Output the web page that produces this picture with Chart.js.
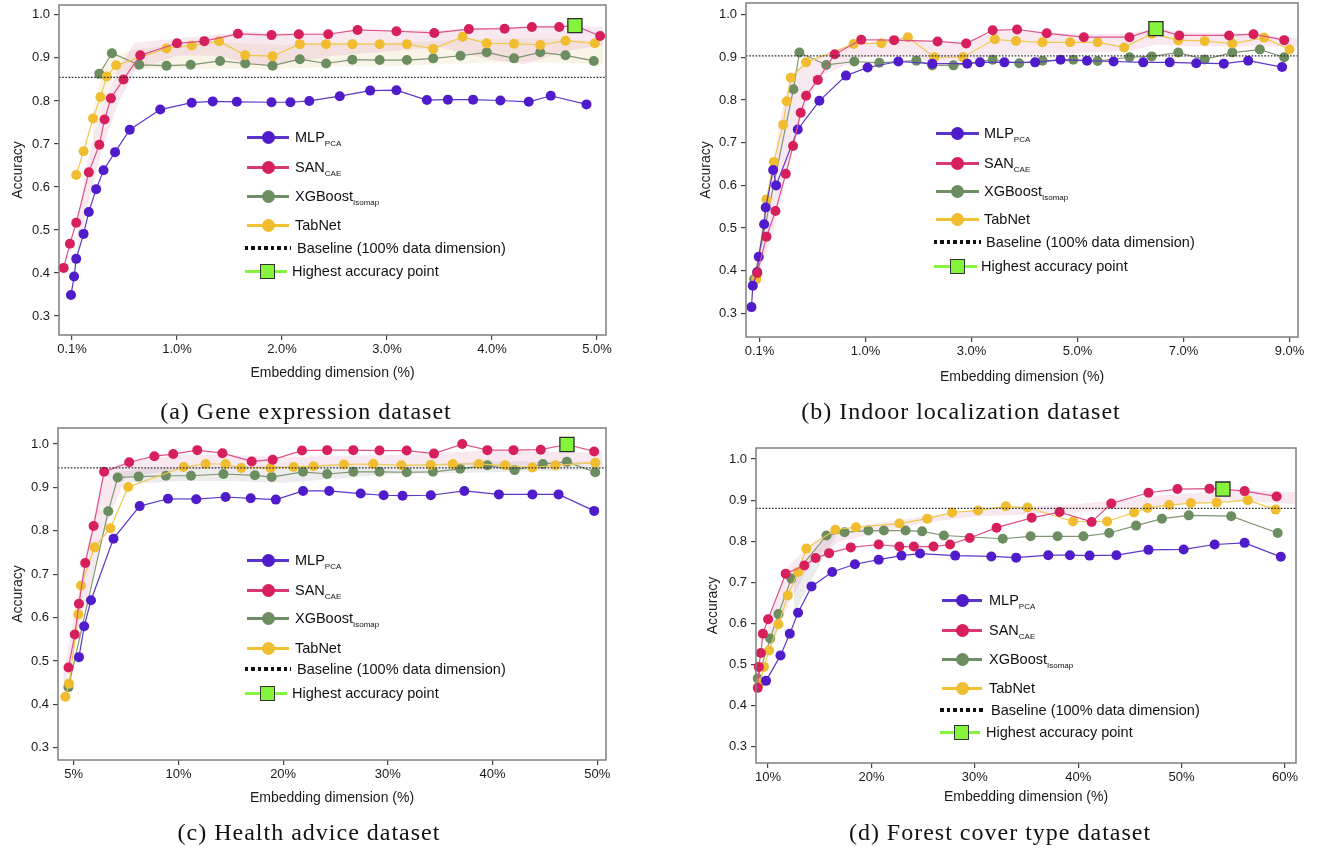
<!DOCTYPE html>
<html><head><meta charset="utf-8">
<script src="https://cdn.jsdelivr.net/npm/chart.js@4.4.1/dist/chart.umd.min.js"></script>
<style>
html,body{margin:0;padding:0;background:#fff;width:1324px;height:855px;overflow:hidden;position:relative;font-family:'Liberation Sans',Arial,sans-serif;}
.pc{position:absolute;}
.cap{position:absolute;font-family:'Liberation Serif','Times New Roman',serif;font-size:24px;letter-spacing:1px;color:#111;white-space:nowrap;transform:translate(-50%,-50%);}
.lgx{position:absolute;}
.lgt{position:absolute;font-size:14.5px;color:#111;white-space:nowrap;transform:translateY(-50%);line-height:1;}
.sb{font-size:8px;position:relative;top:4px;}
</style></head><body>
<div class="pc" id="wa" style="left:0px;top:-12px;"><canvas id="ca" width="660" height="412"></canvas></div>
<div class="pc" id="wb" style="left:690px;top:-12px;"><canvas id="cb" width="634" height="412"></canvas></div>
<div class="pc" id="wc" style="left:0px;top:410px;"><canvas id="cc" width="660" height="410"></canvas></div>
<div class="pc" id="wd" style="left:696px;top:430px;"><canvas id="cd" width="628" height="390"></canvas></div>
<div class="cap" style="left:306px;top:411px;">(a) Gene expression dataset</div>
<div class="cap" style="left:961px;top:411px;">(b) Indoor localization dataset</div>
<div class="cap" style="left:309px;top:832px;">(c) Health advice dataset</div>
<div class="cap" style="left:1000px;top:832px;">(d) Forest cover type dataset</div>
<script>
// ---------- tick labels ----------
const tickPos = [0, 1, 2, 3, 4, 5];
const yTicks = [0.3, 0.4, 0.5, 0.6, 0.7, 0.8, 0.9, 1.0];
const tickA = ['0.1%', '1.0%', '2.0%', '3.0%', '4.0%', '5.0%'];
const tickB = ['0.1%', '1.0%', '3.0%', '5.0%', '7.0%', '9.0%'];
const tickC = ['5%', '10%', '20%', '30%', '40%', '50%'];
const tickD = ['10%', '20%', '30%', '40%', '50%', '60%'];
const legendNames = ['MLP', 'SAN', 'XGBoost', 'TabNet', 'Baseline (100% data dimension)', 'Highest accuracy point'];
const legendSubs = ['PCA', 'CAE', 'Isomap', '', '', ''];

// ---------- data: [axis position, accuracy] ----------
// (a) Gene expression
const aMLP = [[-0.01,0.349],[0.02,0.392],[0.04,0.433],[0.11,0.491],[0.16,0.542],[0.23,0.595],[0.30,0.639],[0.41,0.681],[0.55,0.733],[0.84,0.780],[1.14,0.796],[1.34,0.799],[1.57,0.798],[1.90,0.797],[2.08,0.797],[2.26,0.800],[2.55,0.811],[2.84,0.824],[3.09,0.825],[3.38,0.802],[3.58,0.803],[3.82,0.803],[4.08,0.801],[4.35,0.798],[4.56,0.812],[4.90,0.792]];
const aSAN = [[-0.08,0.412],[-0.02,0.468],[0.04,0.517],[0.16,0.634],[0.26,0.698],[0.31,0.757],[0.37,0.806],[0.49,0.850],[0.65,0.906],[1.00,0.934],[1.26,0.939],[1.58,0.956],[1.90,0.953],[2.16,0.955],[2.44,0.955],[2.72,0.965],[3.09,0.962],[3.45,0.958],[3.78,0.967],[4.12,0.968],[4.38,0.972],[4.64,0.972],[4.79,0.975],[5.03,0.951]];
const aXGB = [[0.26,0.863],[0.38,0.911],[0.64,0.884],[0.90,0.882],[1.13,0.884],[1.41,0.893],[1.65,0.887],[1.91,0.882],[2.17,0.897],[2.42,0.887],[2.67,0.896],[2.93,0.895],[3.19,0.895],[3.44,0.899],[3.70,0.905],[3.95,0.913],[4.21,0.899],[4.46,0.913],[4.70,0.906],[4.97,0.893]];
const aTab = [[0.04,0.628],[0.11,0.683],[0.20,0.759],[0.27,0.809],[0.33,0.857],[0.42,0.883],[0.90,0.922],[1.14,0.929],[1.40,0.939],[1.65,0.906],[1.91,0.904],[2.17,0.932],[2.42,0.932],[2.67,0.932],[2.93,0.932],[3.19,0.932],[3.44,0.921],[3.72,0.949],[3.95,0.934],[4.21,0.933],[4.46,0.930],[4.70,0.940],[4.98,0.934]];
const aBase = 0.855;
const aBest = [4.79, 0.975];
const aSanBand = [[0.05,0.44,0.52],[0.15,0.56,0.66],[0.3,0.70,0.80],[0.45,0.80,0.88],[0.6,0.87,0.935],[1.0,0.905,0.945],[1.4,0.905,0.955],[1.7,0.885,0.96],[2.1,0.89,0.958],[2.5,0.905,0.96],[3.0,0.915,0.965],[3.5,0.925,0.965],[4.0,0.895,0.97],[4.3,0.885,0.972],[4.7,0.915,0.975],[5.06,0.93,0.972]];
const aTabBand = [[0.2,0.70,0.78],[0.3,0.80,0.88],[0.4,0.86,0.905],[0.6,0.875,0.92],[1.0,0.875,0.93],[1.5,0.875,0.935],[2.0,0.875,0.93],[2.5,0.88,0.935],[3.0,0.88,0.935],[3.5,0.885,0.94],[4.0,0.89,0.945],[4.5,0.89,0.945],[5.06,0.885,0.94]];

// (b) Indoor localization
const bMLP = [[-0.075,0.315],[-0.063,0.365],[-0.022,0.397],[-0.007,0.433],[0.044,0.509],[0.059,0.548],[0.129,0.636],[0.157,0.600],[0.361,0.731],[0.565,0.798],[0.816,0.857],[1.02,0.876],[1.31,0.890],[1.63,0.885],[1.96,0.885],[2.08,0.888],[2.31,0.888],[2.60,0.888],[2.84,0.894],[3.09,0.892],[3.34,0.890],[3.62,0.888],[3.87,0.888],[4.12,0.886],[4.38,0.885],[4.61,0.892],[4.93,0.877]];
const bSAN = [[-0.02,0.395],[0.066,0.480],[0.151,0.540],[0.248,0.627],[0.317,0.692],[0.389,0.770],[0.44,0.810],[0.55,0.847],[0.71,0.907],[0.96,0.941],[1.27,0.940],[1.68,0.937],[1.95,0.932],[2.20,0.963],[2.43,0.965],[2.71,0.956],[3.06,0.947],[3.49,0.947],[3.74,0.967],[3.96,0.951],[4.43,0.951],[4.66,0.954],[4.95,0.940]];
const bXGB = [[-0.05,0.380],[0.32,0.825],[0.377,0.911],[0.63,0.882],[0.895,0.890],[1.13,0.887],[1.48,0.892],[1.63,0.881],[1.83,0.881],[2.20,0.894],[2.45,0.886],[2.67,0.892],[2.96,0.894],[3.19,0.891],[3.49,0.900],[3.70,0.902],[3.95,0.911],[4.20,0.895],[4.46,0.911],[4.72,0.918],[4.95,0.900]];
const bTab = [[-0.03,0.380],[0.066,0.567],[0.135,0.655],[0.223,0.742],[0.257,0.797],[0.295,0.852],[0.44,0.888],[0.888,0.931],[1.15,0.933],[1.40,0.947],[1.65,0.900],[1.92,0.900],[2.22,0.942],[2.42,0.938],[2.67,0.935],[2.93,0.935],[3.19,0.935],[3.44,0.923],[3.70,0.955],[3.95,0.940],[4.20,0.938],[4.46,0.932],[4.76,0.946],[5.00,0.918]];
const bBase = 0.903;
const bBest = [3.74, 0.967];
const bSanBand = [[-0.05,0.36,0.40],[0.1,0.47,0.60],[0.2,0.56,0.76],[0.3,0.68,0.86],[0.45,0.80,0.89],[0.6,0.86,0.905],[1.0,0.90,0.935],[1.4,0.905,0.945],[1.65,0.885,0.93],[1.9,0.89,0.935],[2.3,0.905,0.962],[3.0,0.91,0.955],[3.5,0.915,0.955],[3.75,0.93,0.968],[4.0,0.925,0.958],[4.5,0.925,0.957],[5.07,0.925,0.945]];

// (c) Health advice
const cMLP = [[0.05,0.509],[0.10,0.580],[0.165,0.640],[0.38,0.782],[0.63,0.857],[0.90,0.874],[1.17,0.873],[1.45,0.878],[1.69,0.875],[1.93,0.872],[2.19,0.892],[2.44,0.892],[2.74,0.886],[2.96,0.882],[3.14,0.881],[3.41,0.882],[3.73,0.892],[4.06,0.884],[4.38,0.884],[4.63,0.884],[4.97,0.846]];
const cSAN = [[-0.05,0.485],[0.01,0.561],[0.05,0.632],[0.11,0.726],[0.19,0.811],[0.29,0.936],[0.53,0.958],[0.77,0.972],[0.95,0.977],[1.18,0.986],[1.42,0.979],[1.70,0.960],[1.90,0.964],[2.18,0.985],[2.42,0.986],[2.67,0.986],[2.92,0.985],[3.18,0.985],[3.44,0.978],[3.71,1.000],[3.95,0.986],[4.20,0.986],[4.46,0.987],[4.71,0.999],[4.97,0.983]];
const cXGB = [[-0.05,0.440],[0.33,0.845],[0.42,0.923],[0.62,0.925],[0.88,0.927],[1.12,0.927],[1.43,0.931],[1.73,0.928],[1.89,0.924],[2.19,0.936],[2.42,0.931],[2.67,0.936],[2.92,0.936],[3.18,0.935],[3.43,0.936],[3.69,0.943],[3.95,0.951],[4.21,0.940],[4.48,0.954],[4.71,0.959],[4.98,0.935]];
const cTab = [[-0.08,0.418],[-0.045,0.448],[0.044,0.608],[0.07,0.674],[0.20,0.762],[0.35,0.806],[0.52,0.901],[1.05,0.947],[1.26,0.954],[1.45,0.954],[1.60,0.945],[1.88,0.945],[2.10,0.947],[2.29,0.949],[2.58,0.953],[2.86,0.954],[3.13,0.951],[3.41,0.952],[3.62,0.954],[3.87,0.954],[4.12,0.951],[4.38,0.946],[4.60,0.951],[4.98,0.957]];
const cBase = 0.945;
const cBest = [4.71, 0.999];
const cSanBand = [[-0.1,0.43,0.47],[0.1,0.62,0.73],[0.29,0.80,0.94],[0.5,0.925,0.958],[1.0,0.94,0.975],[1.5,0.945,0.975],[2.0,0.945,0.97],[3.0,0.95,0.975],[4.0,0.95,0.985],[5.05,0.955,0.98]];
const cXgbBand = [[0.4,0.915,0.935],[0.7,0.91,0.945],[1.0,0.915,0.945],[1.5,0.915,0.95],[2.0,0.91,0.95],[2.5,0.92,0.95],[3.0,0.93,0.95],[4.0,0.935,0.96],[5.05,0.94,0.96]];

// (d) Forest cover type
const dMLP = [[-0.02,0.460],[0.12,0.522],[0.21,0.575],[0.29,0.626],[0.42,0.690],[0.62,0.725],[0.84,0.744],[1.07,0.755],[1.29,0.765],[1.47,0.770],[1.81,0.765],[2.16,0.763],[2.40,0.760],[2.71,0.766],[2.92,0.766],[3.11,0.765],[3.37,0.766],[3.68,0.779],[4.02,0.780],[4.32,0.792],[4.61,0.796],[4.96,0.762]];
const dSAN = [[-0.10,0.443],[-0.09,0.494],[-0.07,0.528],[-0.05,0.575],[0.00,0.610],[0.17,0.721],[0.35,0.741],[0.46,0.759],[0.59,0.771],[0.80,0.785],[1.07,0.792],[1.27,0.787],[1.41,0.787],[1.60,0.787],[1.76,0.792],[1.95,0.808],[2.21,0.833],[2.55,0.857],[2.82,0.871],[3.13,0.847],[3.32,0.892],[3.68,0.918],[3.96,0.927],[4.27,0.928],[4.40,0.927],[4.61,0.922],[4.92,0.909]];
const dXGB = [[-0.10,0.466],[0.02,0.563],[0.10,0.623],[0.225,0.709],[0.565,0.814],[0.74,0.822],[0.97,0.826],[1.12,0.826],[1.33,0.826],[1.49,0.824],[1.70,0.814],[2.27,0.806],[2.54,0.812],[2.80,0.812],[3.05,0.812],[3.30,0.820],[3.56,0.838],[3.81,0.855],[4.07,0.863],[4.48,0.861],[4.93,0.820]];
const dTab = [[-0.08,0.455],[-0.04,0.494],[0.01,0.534],[0.10,0.598],[0.19,0.668],[0.29,0.725],[0.37,0.782],[0.65,0.828],[0.85,0.834],[1.27,0.843],[1.54,0.855],[1.78,0.870],[2.03,0.875],[2.30,0.885],[2.51,0.882],[2.95,0.848],[3.28,0.848],[3.54,0.870],[3.67,0.881],[3.88,0.888],[4.09,0.893],[4.34,0.894],[4.64,0.900],[4.91,0.877]];
const dBase = 0.880;
const dBest = [4.40, 0.927];
const dPinkBand = [[0.0,0.52,0.60],[0.2,0.65,0.74],[0.45,0.76,0.80],[0.7,0.80,0.83],[1.5,0.845,0.86],[2.0,0.86,0.875],[2.5,0.865,0.885],[3.0,0.87,0.89],[3.5,0.88,0.905],[4.0,0.89,0.915],[4.5,0.90,0.925],[5.1,0.89,0.92]];
const dGrayBand = [[0.25,0.62,0.70],[0.45,0.72,0.78],[0.65,0.81,0.83]];

// ---------- styling ----------
const FONT = "'Liberation Sans', Arial, sans-serif";
const MARK = {mlp:'#4f1bcb', san:'#d71f5b', xgb:'#6b8d5f', tab:'#efbd2f'};
const LINE = {mlp:'#5b37c9', san:'#e0508a', xgb:'#7f9573', tab:'#f0c84a'};
const LEGLINE = {mlp:'#5a34cc', san:'#d83a70', xgb:'#6f8e63', tab:'#f0c232'};
const PINK = 'rgba(215,120,165,0.17)', BEIGE = 'rgba(225,200,140,0.20)', GRAY = 'rgba(140,140,140,0.17)';

const frame = {id:'frame', afterDatasetsDraw(chart){
  const {ctx, chartArea:a} = chart;
  ctx.save(); ctx.strokeStyle = '#7f7f7f'; ctx.lineWidth = 1.5;
  ctx.strokeRect(a.left, a.top, a.right - a.left, a.bottom - a.top);
  ctx.restore();
}};

function pts(arr){ return arr.map(r => ({x:r[0], y:r[1]})); }
function series(arr, key, order){
  return {data:pts(arr), showLine:true, borderColor:LINE[key], borderWidth:1.2, backgroundColor:MARK[key],
    pointBackgroundColor:MARK[key], pointBorderWidth:0, pointRadius:5, pointHoverRadius:5, order, clip:false, tension:0};
}
function band(arr, color){
  return [
    {data:arr.map(r => ({x:r[0], y:r[2]})), showLine:true, borderColor:'rgba(0,0,0,0)', borderWidth:1, pointRadius:0, fill:'+1', backgroundColor:color, order:20},
    {data:arr.map(r => ({x:r[0], y:r[1]})), showLine:true, borderColor:'rgba(0,0,0,0)', borderWidth:1, pointRadius:0, fill:false, order:21}
  ];
}

function makePanel(id, p){
  const ds = [];
  ds.push({data:[{x:p.best[0], y:p.best[1]}], pointStyle:'rect', pointRadius:10, pointHoverRadius:10,
    backgroundColor:'#84f53c', pointBackgroundColor:'#84f53c', borderColor:'#2d2d2d', pointBorderColor:'#2d2d2d',
    pointBorderWidth:1.3, showLine:false, order:0, clip:false});
  ds.push({data:[{x:p.xmin, y:p.base}, {x:p.xmax, y:p.base}], showLine:true, borderColor:'#2a2a2a', borderWidth:1.3,
    borderDash:[1.6, 1.6], pointRadius:0, order:1});
  p.series.forEach(s => ds.push(series(s[0], s[1], s[2])));
  p.bands.forEach(b => band(b[0], b[1]).forEach(d => ds.push(d)));
  new Chart(document.getElementById(id), {
    type:'scatter',
    data:{datasets:ds},
    options:{
      responsive:false, animation:false, events:[],
      layout:{padding:{top:p.padTop, right:p.padRight, left:0, bottom:0}},
      plugins:{legend:{display:false}, tooltip:{enabled:false}},
      scales:{
        x:{type:'linear', min:p.xmin, max:p.xmax,
          afterBuildTicks:s => { s.ticks = tickPos.map(v => ({value:v})); },
          afterFit:s => { s.height = p.xh; },
          ticks:{autoSkip:false, maxRotation:0, padding:2, color:'#1a1a1a', font:{size:13, family:FONT},
            callback:(v, i) => p.xlabels[i]},
          grid:{drawOnChartArea:false, tickLength:5, color:'#444', lineWidth:1.2},
          border:{display:false},
          title:{display:true, text:'Embedding dimension (%)', color:'#1a1a1a', font:{size:14, family:FONT}, padding:{top:0, bottom:p.xtp}}},
        y:{type:'linear', min:p.ymin, max:p.ymax,
          afterBuildTicks:s => { s.ticks = yTicks.map(v => ({value:v})); },
          afterFit:s => { s.width = p.yw; },
          ticks:{padding:4, color:'#1a1a1a', font:{size:13, family:FONT}, callback:v => Number(v).toFixed(1)},
          grid:{drawOnChartArea:false, tickLength:5, color:'#444', lineWidth:1.2},
          border:{display:false},
          title:{display:true, text:'Accuracy', color:'#1a1a1a', font:{size:14, family:FONT}, padding:{top:p.ytp, bottom:0}}}
      }
    },
    plugins:[frame]
  });
}

makePanel('ca', {xlabels:tickA, xmin:-0.124, xmax:5.086, ymin:0.256, ymax:1.023, yw:59, xh:65, padTop:17, padRight:54, xtp:18.6, ytp:9.6,
  base:aBase, best:aBest, series:[[aSAN,'san',2],[aMLP,'mlp',3],[aTab,'tab',4],[aXGB,'xgb',5]], bands:[[aSanBand,PINK],[aTabBand,BEIGE]]});
makePanel('cb', {xlabels:tickB, xmin:-0.127, xmax:5.08, ymin:0.245, ymax:1.027, yw:56, xh:63, padTop:15, padRight:26, xtp:14.9, ytp:7.6,
  base:bBase, best:bBest, series:[[bSAN,'san',2],[bMLP,'mlp',3],[bTab,'tab',4],[bXGB,'xgb',5]], bands:[[bSanBand,PINK]]});
makePanel('cc', {xlabels:tickC, xmin:-0.15, xmax:5.083, ymin:0.272, ymax:1.037, yw:58, xh:60, padTop:18, padRight:54, xtp:13.9, ytp:9.6,
  base:cBase, best:cBest, series:[[cSAN,'san',2],[cMLP,'mlp',3],[cTab,'tab',4],[cXGB,'xgb',5]], bands:[[cSanBand,PINK],[cXgbBand,GRAY]]});
makePanel('cd', {xlabels:tickD, xmin:-0.117, xmax:5.107, ymin:0.260, ymax:1.027, yw:60, xh:57, padTop:18, padRight:28, xtp:14.9, ytp:8.6,
  base:dBase, best:dBest, series:[[dSAN,'san',2],[dMLP,'mlp',3],[dTab,'tab',4],[dXGB,'xgb',5]], bands:[[dPinkBand,PINK],[dGrayBand,GRAY]]});

// ---------- legends (HTML overlay) ----------
const legendKeys = ['mlp', 'san', 'xgb', 'tab', 'base', 'best'];
const legendPos = [
  {x0:247, x1:289, tx:295, ys:[137,167,196,225,248,271]},
  {x0:936, x1:979, tx:984, ys:[133,163,191,219,242,266]},
  {x0:247, x1:289, tx:295, ys:[560,590,618,648,669,693]},
  {x0:942, x1:982, tx:989, ys:[600,630,659,688,710,732]}
];
function el(css){ const d = document.createElement('div'); d.className = 'lgx'; d.style.cssText = css; document.body.appendChild(d); return d; }
legendPos.forEach(pos => {
  legendKeys.forEach((k, i) => {
    const y = pos.ys[i], cx = (pos.x0 + pos.x1) / 2, w = pos.x1 - pos.x0;
    let tx = pos.tx;
    if (k === 'base') {
      el(`left:${pos.x0-2}px;top:${y-1.75}px;width:${w+4}px;height:3.5px;background:repeating-linear-gradient(to right,#111 0 3.5px,transparent 3.5px 6.5px);`);
      tx += 2;
    } else if (k === 'best') {
      el(`left:${pos.x0-2}px;top:${y-1.5}px;width:${w}px;height:3px;background:#84f53c;`);
      el(`left:${cx-8}px;top:${y-7.5}px;width:13px;height:13px;background:#84f53c;border:1.3px solid #333;`);
      tx -= 3;
    } else {
      el(`left:${pos.x0}px;top:${y-1.5}px;width:${w}px;height:3px;background:${LEGLINE[k]};`);
      el(`left:${cx-6.5}px;top:${y-6.5}px;width:13px;height:13px;border-radius:50%;background:${MARK[k]};`);
    }
    const t = document.createElement('div');
    t.className = 'lgt';
    t.style.left = tx + 'px'; t.style.top = y + 'px';
    t.appendChild(document.createTextNode(legendNames[i]));
    if (legendSubs[i]) { const s = document.createElement('span'); s.className = 'sb'; s.textContent = legendSubs[i]; t.appendChild(s); }
    document.body.appendChild(t);
  });
});
</script>
</body></html>
